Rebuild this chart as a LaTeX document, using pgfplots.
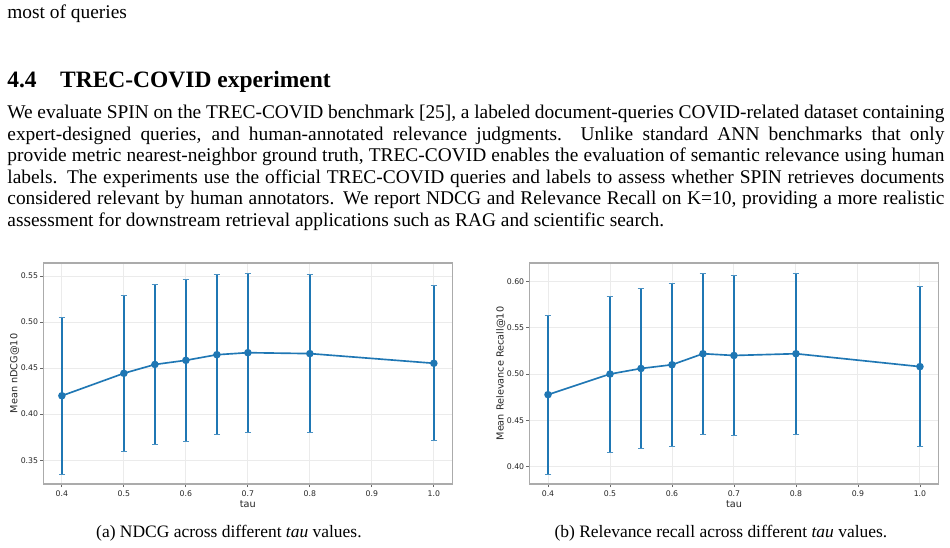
\documentclass[border=0pt]{standalone}
\usepackage{fontspec}
\setmainfont{Liberation Serif}
\newfontfamily\plotfont{DejaVu Sans}
\usepackage{pgfplots}
\usepackage{pgfplotstable}
\pgfplotsset{compat=1.18}

\definecolor{tabblue}{HTML}{1F77B4}
\definecolor{framegray}{HTML}{ABABAB}
\definecolor{gridgray}{HTML}{EBEBEB}
\definecolor{ticktext}{HTML}{262626}

% tau, mean NDCG@10, standard deviation
\pgfplotstableread{
tau  m      e
0.40 0.4200 0.0852
0.50 0.4444 0.0848
0.55 0.4540 0.0874
0.60 0.4585 0.0877
0.65 0.4646 0.0871
0.70 0.4668 0.0865
0.80 0.4658 0.0857
1.00 0.4553 0.0841
}\ndcgdata

% tau, mean relevance recall@10, standard deviation
\pgfplotstableread{
tau  m      e
0.40 0.4778 0.0855
0.50 0.5000 0.0840
0.55 0.5060 0.0862
0.60 0.5100 0.0878
0.65 0.5219 0.0868
0.70 0.5200 0.0864
0.80 0.5219 0.0868
1.00 0.5080 0.0859
}\recalldata

\pgfplotsset{
  tauplot/.style={
    scale only axis, width=210.9pt, height=113.9pt,
    anchor=south west,
    xmin=0.37, xmax=1.03,
    xtick={0.4,0.5,0.6,0.7,0.8,0.9,1.0},
    xticklabel style={/pgf/number format/fixed, /pgf/number format/fixed zerofill,
      /pgf/number format/precision=1},
    yticklabel style={/pgf/number format/fixed, /pgf/number format/fixed zerofill,
      /pgf/number format/precision=2},
    /pgf/number format/assume math mode=true,
    tick label style={font=\plotfont\fontsize{4}{5}\selectfont, text=ticktext},
    label style={font=\plotfont\fontsize{5}{6}\selectfont, text=ticktext},
    axis line style={framegray, line width=0.6pt},
    tick pos=left, tick align=outside, major tick length=1.6pt,
    tick style={ticktext!70, line width=0.45pt},
    grid=major, major grid style={gridgray, line width=0.5pt},
    xlabel={tau},
    xlabel style={at={(axis description cs:0.5,-0.09)}, anchor=center},
    ylabel style={at={(axis description cs:-0.0702,0.5)}, anchor=center},
    xticklabel style={anchor=center, yshift=-3.6pt},
    yticklabel style={anchor=east, inner sep=0pt, xshift=-0.9pt},
  },
  errline/.style={
    color=tabblue, line width=0.85pt, mark=*, mark size=1.5pt,
    mark options={fill=tabblue, draw=tabblue},
    error bars/.cd, y dir=both, y explicit,
    error bar style={line width=0.85pt, color=tabblue},
    error mark options={rotate=90, line width=0.5pt, mark size=1.7pt, color=tabblue!80},
  },
}

% one justified line of running text
\newcommand{\jline}[1]{\makebox[483pt][s]{#1}}

\begin{document}
\begin{tikzpicture}
\useasboundingbox (0,0) rectangle (489.69pt,281.96pt);
\fill[white] (0,0) rectangle (489.69pt,281.96pt);

% running text above the figure
\node[anchor=base west, inner sep=0pt] at (3.61pt,272.68pt) {most of queries};
\node[anchor=base west, inner sep=0pt, font=\fontsize{12.1}{14}\selectfont\bfseries]
  at (3.61pt,237.11pt) {4.4\quad TREC-COVID experiment};
\node[anchor=base west, inner sep=0pt] at (3.61pt,220.88pt)
  {\jline{We evaluate SPIN on the TREC-COVID benchmark [25], a labeled document-queries COVID-related dataset containing}};
\node[anchor=base west, inner sep=0pt] at (3.61pt,209.74pt)
  {\jline{expert-designed queries, and human-annotated relevance judgments.\ \ Unlike standard ANN benchmarks that only}};
\node[anchor=base west, inner sep=0pt] at (3.61pt,198.61pt)
  {\jline{provide metric nearest-neighbor ground truth, TREC-COVID enables the evaluation of semantic relevance using human}};
\node[anchor=base west, inner sep=0pt] at (3.61pt,187.47pt)
  {\jline{labels. The experiments use the official TREC-COVID queries and labels to assess whether SPIN retrieves documents}};
\node[anchor=base west, inner sep=0pt] at (3.61pt,176.34pt)
  {\jline{considered relevant by human annotators. We report NDCG and Relevance Recall on K=10, providing a more realistic}};
\node[anchor=base west, inner sep=0pt] at (3.61pt,165.21pt)
  {assessment for downstream retrieval applications such as RAG and scientific search.};

% (a) NDCG
\begin{axis}[tauplot, at={(22.32pt,32.47pt)},
  ymin=0.3241, ymax=0.5642,
  ytick={0.35,0.40,0.45,0.50,0.55},
  ylabel={Mean nDCG@10}]
\addplot[errline] table[x=tau, y=m, y error=e] {\ndcgdata};
\end{axis}

% (b) Relevance recall
\begin{axis}[tauplot, at={(272.89pt,32.47pt)},
  ymin=0.3815, ymax=0.6196,
  ytick={0.40,0.45,0.50,0.55,0.60},
  ylabel={Mean Relevance Recall@10}]
\addplot[errline] table[x=tau, y=m, y error=e] {\recalldata};
\end{axis}

% sub-captions
\node[anchor=base, inner sep=0pt, font=\fontsize{9}{11}\selectfont]
  at (118.0pt,5.15pt) {(a) NDCG across different \textit{tau} values.};
\node[anchor=base, inner sep=0pt, font=\fontsize{9}{11}\selectfont]
  at (371.6pt,5.15pt) {(b) Relevance recall across different \textit{tau} values.};
\end{tikzpicture}
\end{document}
